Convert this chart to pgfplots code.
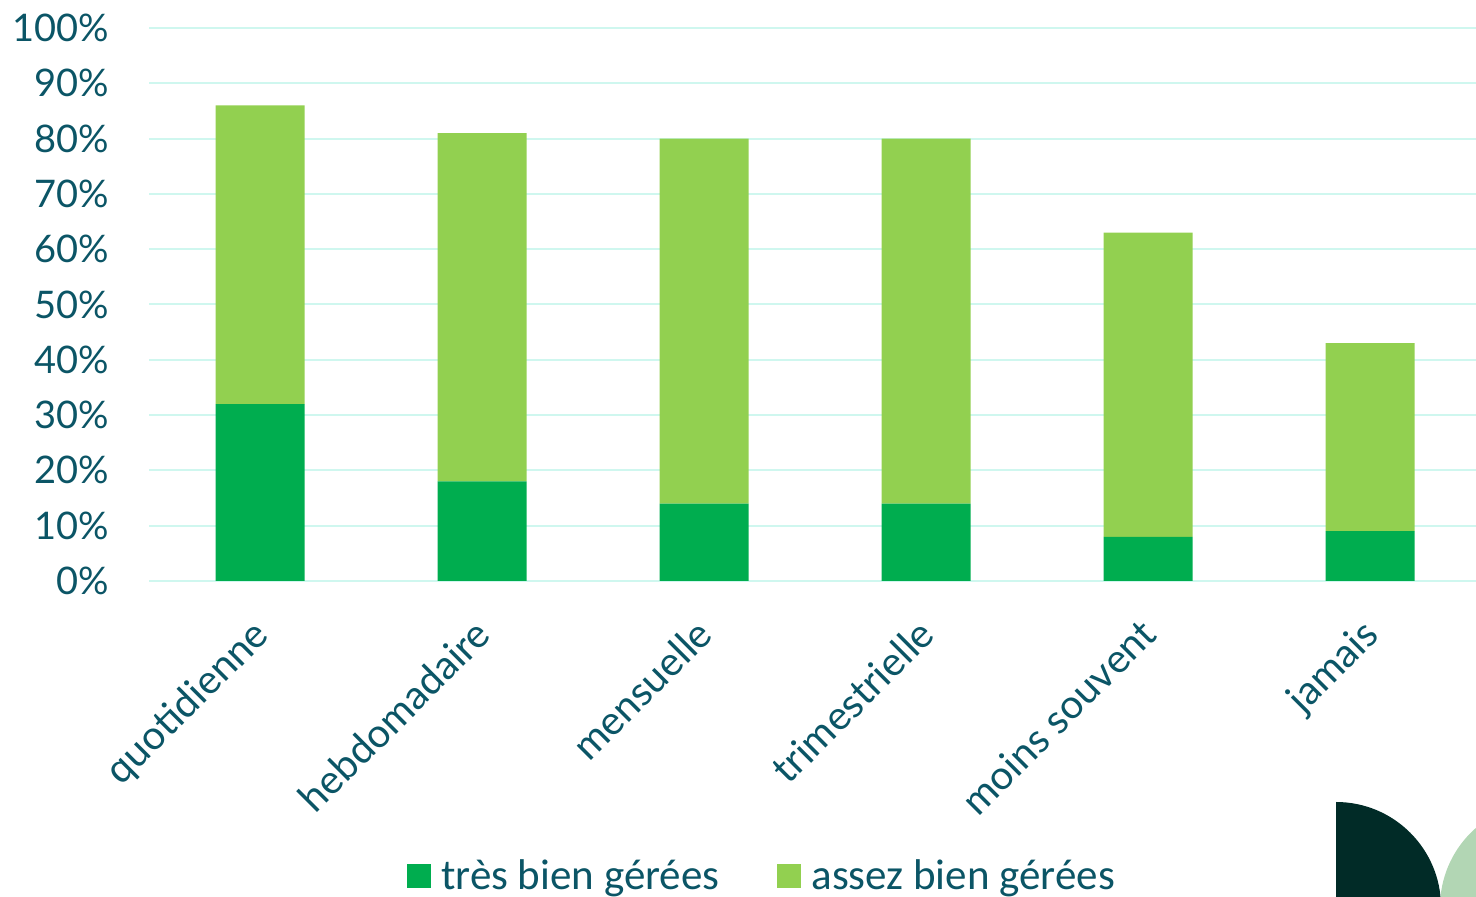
\documentclass[border=0pt]{standalone}
\usepackage{pgfplots}
\pgfplotsset{compat=1.18}
\usepackage{fontspec}
\setmainfont{Carlito}
\newfontfamily\axisfont{Lato}
\definecolor{txt}{HTML}{0B5566}
\definecolor{gridc}{HTML}{CFF7EF}
\definecolor{dg}{HTML}{00AD4F}
\definecolor{lg}{HTML}{92D050}
\definecolor{decoa}{HTML}{012B27}
\definecolor{decob}{HTML}{B2D6B4}
\begin{document}
\begin{tikzpicture}
\useasboundingbox (0,0) rectangle (738pt,448.5pt);
\begin{scope}
\clip (0,0) rectangle (738pt,448.5pt);
\fill[decoa] (668pt,-5pt) -- (668pt,47.5pt) arc[start angle=90,end angle=0,radius=52.5pt] -- cycle;
\fill[decob] (772.5pt,-5pt) circle[radius=52.5pt];
\end{scope}
\begin{axis}[
 at={(74.5pt,158pt)}, anchor=south west,
 scale only axis, width=666pt, height=276.5pt,
 ybar stacked, bar width=44.5pt,
 xmin=-0.5, xmax=5.5, ymin=0, ymax=100,
 xtick=data,
 xticklabels={quotidienne,hebdomadaire,mensuelle,trimestrielle,moins souvent,jamais},
 x tick label style={xshift=-5pt, yshift=-17.5pt, rotate=45, anchor=north east, font=\axisfont\fontsize{20}{24}\selectfont, text=txt, inner sep=0pt},
 ytick={0,10,...,100},
 yticklabels={0\%,10\%,20\%,30\%,40\%,50\%,60\%,70\%,80\%,90\%,100\%},
 y tick label style={font=\axisfont\fontsize{19}{22}\selectfont, text=txt, inner sep=0pt, xshift=-20pt},
 ymajorgrids, grid style={gridc, line width=1pt},
 axis line style={draw=none}, major tick length=0pt,
 legend style={at={(0.461,-0.533)}, anchor=center, draw=none, legend columns=2,
   font=\fontsize{21.5}{24}\selectfont, text=txt,
   /tikz/every even column/.append style={column sep=27pt}},
 legend image code/.code={\fill[#1] (0pt,-6pt) rectangle (12pt,6pt); \path (15pt,0pt);},
]
\addplot[fill=dg, draw=none] coordinates {(0,32) (1,18) (2,14) (3,14) (4,8) (5,9)};
\addplot[fill=lg, draw=none] coordinates {(0,54) (1,63) (2,66) (3,66) (4,55) (5,34)};
\legend{très bien gérées, assez bien gérées}
\end{axis}
\end{tikzpicture}
\end{document}
